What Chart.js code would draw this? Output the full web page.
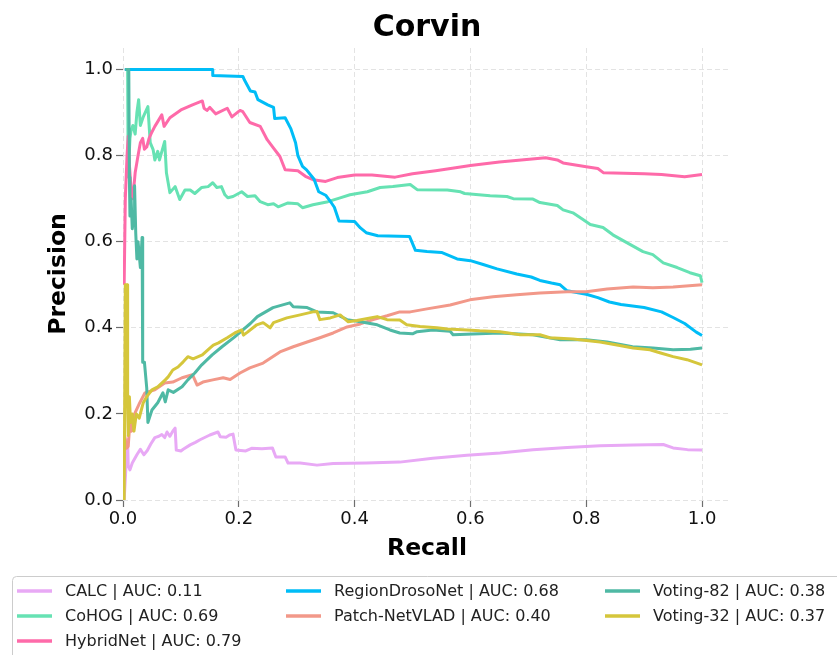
<!DOCTYPE html>
<html>
<head>
<meta charset="utf-8">
<script src="https://cdn.jsdelivr.net/npm/chart.js@4/dist/chart.umd.min.js"></script>
<style>
  html, body { margin: 0; padding: 0; background: #ffffff; }
  #wrap { width: 837px; height: 655px; position: relative; }
</style>
</head>
<body>
<div id="wrap"><canvas id="pr"></canvas></div>
<script>
// Precision-recall curves, Corvin dataset. Each point is [recall, precision].
const chartTitle = 'Corvin';
const methodNames = ['CALC', 'CoHOG', 'HybridNet', 'RegionDrosoNet', 'Patch-NetVLAD', 'Voting-82', 'Voting-32'];
const aucValues = [0.11, 0.69, 0.79, 0.68, 0.40, 0.38, 0.37];
const axisTicks = [0.0, 0.2, 0.4, 0.6, 0.8, 1.0];

const calc = [
  [0.002,0.0],[0.004,0.05],[0.006,0.1],[0.008,0.14],[0.009,0.08],[0.012,0.07],[0.016,0.086],[0.024,0.105],
  [0.03,0.118],[0.036,0.105],[0.042,0.115],[0.048,0.13],[0.055,0.145],[0.062,0.148],[0.067,0.152],[0.072,0.145],
  [0.076,0.158],[0.081,0.148],[0.086,0.16],[0.09,0.167],[0.092,0.116],[0.1,0.114],[0.104,0.118],[0.116,0.128],
  [0.125,0.134],[0.133,0.14],[0.15,0.151],[0.164,0.158],[0.168,0.147],[0.178,0.146],[0.184,0.151],[0.19,0.153],
  [0.195,0.116],[0.212,0.114],[0.222,0.12],[0.24,0.119],[0.258,0.121],[0.264,0.1],[0.28,0.1],[0.285,0.086],
  [0.306,0.086],[0.335,0.081],[0.363,0.085],[0.42,0.086],[0.478,0.088],[0.535,0.097],[0.594,0.104],[0.651,0.109],
  [0.708,0.117],[0.767,0.122],[0.824,0.126],[0.881,0.128],[0.933,0.129],[0.95,0.121],[0.975,0.117],[1.0,0.116]
];
const cohog = [
  [0.004,1.0],[0.008,1.0],[0.009,0.75],[0.012,0.84],[0.014,0.86],[0.017,0.87],[0.021,0.85],[0.024,0.9],
  [0.027,0.93],[0.03,0.87],[0.035,0.89],[0.043,0.914],[0.047,0.83],[0.052,0.814],[0.055,0.79],[0.06,0.81],
  [0.063,0.79],[0.072,0.833],[0.075,0.76],[0.081,0.714],[0.09,0.728],[0.098,0.698],[0.107,0.72],[0.116,0.72],
  [0.124,0.712],[0.136,0.726],[0.147,0.728],[0.155,0.737],[0.162,0.726],[0.17,0.728],[0.176,0.709],[0.181,0.702],
  [0.19,0.705],[0.205,0.716],[0.215,0.705],[0.228,0.707],[0.237,0.693],[0.25,0.686],[0.26,0.688],[0.268,0.681],
  [0.285,0.69],[0.302,0.688],[0.31,0.679],[0.328,0.686],[0.354,0.693],[0.375,0.702],[0.392,0.709],[0.422,0.716],
  [0.444,0.726],[0.466,0.728],[0.496,0.733],[0.508,0.721],[0.56,0.72],[0.583,0.716],[0.59,0.712],[0.634,0.707],
  [0.663,0.705],[0.674,0.7],[0.708,0.699],[0.72,0.691],[0.75,0.684],[0.76,0.674],[0.777,0.667],[0.795,0.651],
  [0.807,0.64],[0.829,0.633],[0.846,0.616],[0.87,0.598],[0.898,0.577],[0.915,0.57],[0.933,0.551],[0.957,0.54],
  [0.979,0.528],[0.997,0.521],[1.0,0.505]
];
const hybridNet = [
  [0.002,0.5],[0.004,0.7],[0.007,0.8],[0.009,0.845],[0.011,0.78],[0.014,0.72],[0.017,0.7],[0.021,0.76],
  [0.026,0.8],[0.03,0.83],[0.034,0.84],[0.037,0.815],[0.041,0.82],[0.045,0.84],[0.05,0.855],[0.055,0.868],
  [0.06,0.879],[0.067,0.895],[0.071,0.868],[0.081,0.888],[0.1,0.906],[0.12,0.918],[0.137,0.927],[0.14,0.91],
  [0.145,0.905],[0.15,0.912],[0.16,0.897],[0.18,0.91],[0.188,0.89],[0.202,0.905],[0.207,0.902],[0.219,0.877],
  [0.237,0.868],[0.249,0.837],[0.259,0.819],[0.271,0.798],[0.28,0.767],[0.302,0.765],[0.315,0.752],[0.328,0.744],
  [0.35,0.74],[0.37,0.749],[0.4,0.755],[0.43,0.755],[0.47,0.75],[0.5,0.758],[0.54,0.765],[0.6,0.777],
  [0.65,0.785],[0.73,0.795],[0.75,0.79],[0.76,0.783],[0.8,0.774],[0.82,0.77],[0.83,0.76],[0.9,0.758],
  [0.93,0.756],[0.97,0.751],[1.0,0.756]
];
const regionDrosoNet = [
  [0.003,1.0],[0.155,1.0],[0.155,0.986],[0.207,0.984],[0.21,0.975],[0.22,0.95],[0.228,0.948],[0.233,0.93],
  [0.25,0.918],[0.26,0.912],[0.262,0.886],[0.28,0.888],[0.29,0.862],[0.298,0.83],[0.302,0.8],[0.31,0.775],
  [0.317,0.767],[0.33,0.745],[0.338,0.716],[0.35,0.708],[0.36,0.69],[0.365,0.68],[0.373,0.648],[0.4,0.647],
  [0.41,0.632],[0.42,0.621],[0.44,0.614],[0.495,0.612],[0.505,0.58],[0.525,0.577],[0.55,0.575],[0.577,0.56],
  [0.6,0.556],[0.622,0.547],[0.646,0.537],[0.68,0.525],[0.705,0.518],[0.72,0.51],[0.74,0.504],[0.755,0.5],
  [0.767,0.486],[0.8,0.478],[0.82,0.47],[0.84,0.46],[0.86,0.454],[0.9,0.447],[0.93,0.437],[0.95,0.424],
  [0.97,0.41],[0.99,0.39],[1.0,0.382]
];
const patchNetVlad = [
  [0.003,0.15],[0.006,0.12],[0.009,0.125],[0.012,0.18],[0.015,0.16],[0.02,0.2],[0.029,0.226],[0.038,0.249],
  [0.055,0.256],[0.072,0.272],[0.086,0.274],[0.102,0.284],[0.12,0.291],[0.128,0.267],[0.138,0.274],[0.155,0.279],
  [0.173,0.284],[0.185,0.28],[0.202,0.295],[0.219,0.307],[0.242,0.318],[0.271,0.344],[0.294,0.356],[0.318,0.367],
  [0.34,0.377],[0.363,0.388],[0.387,0.402],[0.41,0.409],[0.432,0.419],[0.456,0.428],[0.478,0.437],[0.496,0.437],
  [0.525,0.444],[0.565,0.453],[0.599,0.465],[0.639,0.472],[0.68,0.477],[0.72,0.481],[0.767,0.484],[0.8,0.484],
  [0.836,0.49],[0.881,0.495],[0.915,0.493],[0.95,0.495],[1.0,0.5]
];
const voting82 = [
  [0.004,1.0],[0.01,1.0],[0.011,0.75],[0.012,0.66],[0.014,0.7],[0.016,0.63],[0.019,0.66],[0.02,0.73],
  [0.022,0.62],[0.024,0.56],[0.026,0.6],[0.03,0.54],[0.033,0.61],[0.034,0.32],[0.037,0.32],[0.039,0.29],
  [0.041,0.26],[0.043,0.18],[0.05,0.209],[0.06,0.226],[0.069,0.249],[0.073,0.228],[0.078,0.256],[0.087,0.25],
  [0.102,0.263],[0.112,0.279],[0.124,0.295],[0.136,0.314],[0.154,0.337],[0.171,0.356],[0.193,0.379],[0.205,0.393],
  [0.22,0.41],[0.232,0.426],[0.259,0.447],[0.288,0.458],[0.294,0.449],[0.318,0.447],[0.335,0.437],[0.363,0.435],
  [0.387,0.419],[0.41,0.414],[0.439,0.407],[0.461,0.395],[0.478,0.388],[0.5,0.386],[0.508,0.391],[0.535,0.395],
  [0.565,0.392],[0.57,0.384],[0.65,0.388],[0.708,0.384],[0.755,0.372],[0.8,0.372],[0.836,0.367],[0.88,0.356],
  [0.915,0.353],[0.95,0.349],[0.98,0.35],[1.0,0.353]
];
const voting32 = [
  [0.002,0.0],[0.004,0.5],[0.007,0.5],[0.008,0.22],[0.009,0.15],[0.011,0.24],[0.013,0.18],[0.016,0.2],
  [0.019,0.16],[0.023,0.2],[0.028,0.19],[0.035,0.226],[0.041,0.24],[0.05,0.256],[0.06,0.263],[0.073,0.279],
  [0.078,0.286],[0.086,0.302],[0.095,0.309],[0.104,0.321],[0.112,0.333],[0.121,0.328],[0.137,0.337],[0.15,0.353],
  [0.156,0.36],[0.165,0.365],[0.18,0.377],[0.193,0.388],[0.205,0.395],[0.208,0.383],[0.215,0.39],[0.231,0.407],
  [0.242,0.412],[0.254,0.4],[0.26,0.412],[0.283,0.423],[0.306,0.43],[0.328,0.437],[0.335,0.438],[0.34,0.419],
  [0.358,0.423],[0.375,0.43],[0.389,0.414],[0.404,0.417],[0.427,0.423],[0.439,0.426],[0.456,0.419],[0.478,0.418],
  [0.49,0.407],[0.513,0.403],[0.542,0.4],[0.56,0.397],[0.594,0.395],[0.616,0.393],[0.651,0.391],[0.686,0.384],
  [0.72,0.384],[0.737,0.377],[0.777,0.374],[0.824,0.367],[0.853,0.36],[0.881,0.353],[0.91,0.349],[0.927,0.342],
  [0.95,0.333],[0.974,0.326],[1.0,0.314]
];

const curves = [calc, cohog, hybridNet, regionDrosoNet, patchNetVlad, voting82, voting32];
const lineColors = ['#e8a9f5', '#66e2b3', '#fe6aa9', '#00bdf7', '#f29889', '#4fb9a4', '#d5c63b'];

const FONT = '"DejaVu Sans", "Liberation Sans", sans-serif';

const datasets = curves.map((pts, i) => ({
  label: methodNames[i] + ' | AUC: ' + aucValues[i].toFixed(2),
  data: pts.map(p => ({ x: p[0], y: p[1] })),
  borderColor: lineColors[i],
  backgroundColor: lineColors[i],
  borderWidth: 3,
  pointRadius: 0,
  tension: 0,
  fill: false,
  borderJoinStyle: 'round',
  order: curves.length - i
}));

// Legend cells filled column by column: 3 + 2 + 2 entries.
const legendCells = [[0, 0], [0, 1], [0, 2], [1, 0], [1, 1], [2, 0], [2, 1]];

// Title above the plot area and a three-column legend boxed below it.
const decorations = {
  id: 'decorations',
  afterDraw(chart) {
    const ctx = chart.ctx;
    const area = chart.chartArea;
    ctx.save();
    ctx.fillStyle = '#000000';
    ctx.font = 'bold 30px ' + FONT;
    ctx.textAlign = 'center';
    ctx.textBaseline = 'middle';
    ctx.fillText(chartTitle, (area.left + area.right) / 2, 28);

    // legend frame
    ctx.strokeStyle = '#cccccc';
    ctx.lineWidth = 1;
    const bx = 12.5, by = 576.5, bw = 900, bh = 100, r = 4;
    ctx.beginPath();
    ctx.moveTo(bx + r, by);
    ctx.lineTo(bx + bw - r, by);
    ctx.arcTo(bx + bw, by, bx + bw, by + r, r);
    ctx.lineTo(bx + bw, by + bh - r);
    ctx.arcTo(bx + bw, by + bh, bx + bw - r, by + bh, r);
    ctx.lineTo(bx + r, by + bh);
    ctx.arcTo(bx, by + bh, bx, by + bh - r, r);
    ctx.lineTo(bx, by + r);
    ctx.arcTo(bx, by, bx + r, by, r);
    ctx.stroke();

    const colX = [17, 286, 605];
    const rowY = [591, 616, 641];
    ctx.font = '16px ' + FONT;
    ctx.textAlign = 'left';
    chart.data.datasets.forEach((ds, i) => {
      const [col, row] = legendCells[i];
      const x = colX[col], y = rowY[row];
      ctx.strokeStyle = ds.borderColor;
      ctx.lineWidth = 3.5;
      ctx.lineCap = 'butt';
      ctx.beginPath();
      ctx.moveTo(x, y);
      ctx.lineTo(x + 35, y);
      ctx.stroke();
      ctx.fillStyle = '#222222';
      ctx.fillText(ds.label, x + 48, y + 1);
    });
    ctx.restore();
  }
};

const axisCommon = (titleText, isX) => ({
  type: 'linear',
  min: 0,
  max: 1.05,
  afterBuildTicks(scale) {
    scale.ticks = axisTicks.map(v => ({ value: v }));
  },
  afterFit(scale) {
    if (isX) scale.height = 68; else scale.width = 123;
  },
  ticks: {
    includeBounds: false,
    color: '#111111',
    font: { family: FONT, size: 18 },
    padding: isX ? 2 : 3,
    autoSkip: false,
    maxRotation: 0,
    callback: v => Number(v).toFixed(1)
  },
  grid: {
    color: '#e3e3e3',
    lineWidth: 1,
    drawTicks: true,
    tickLength: 7,
    tickColor: '#6e6e6e',
    tickWidth: 1.2
  },
  border: { display: false, dash: [5, 3] },
  title: {
    display: true,
    text: titleText,
    color: '#000000',
    font: { family: FONT, size: 23.5, weight: 'bold' },
    padding: isX ? { top: 0, bottom: 5 } : { top: 45, bottom: 0 }
  }
});

new Chart(document.getElementById('pr'), {
  type: 'line',
  data: { datasets },
  options: {
    responsive: true,
    maintainAspectRatio: false,
    animation: false,
    layout: { padding: { left: 0, right: 106, top: 48, bottom: 87 } },
    plugins: {
      legend: { display: false },
      title: { display: false },
      tooltip: { enabled: false }
    },
    scales: {
      x: axisCommon('Recall', true),
      y: axisCommon('Precision', false)
    }
  },
  plugins: [decorations]
});
</script>
</body>
</html>
